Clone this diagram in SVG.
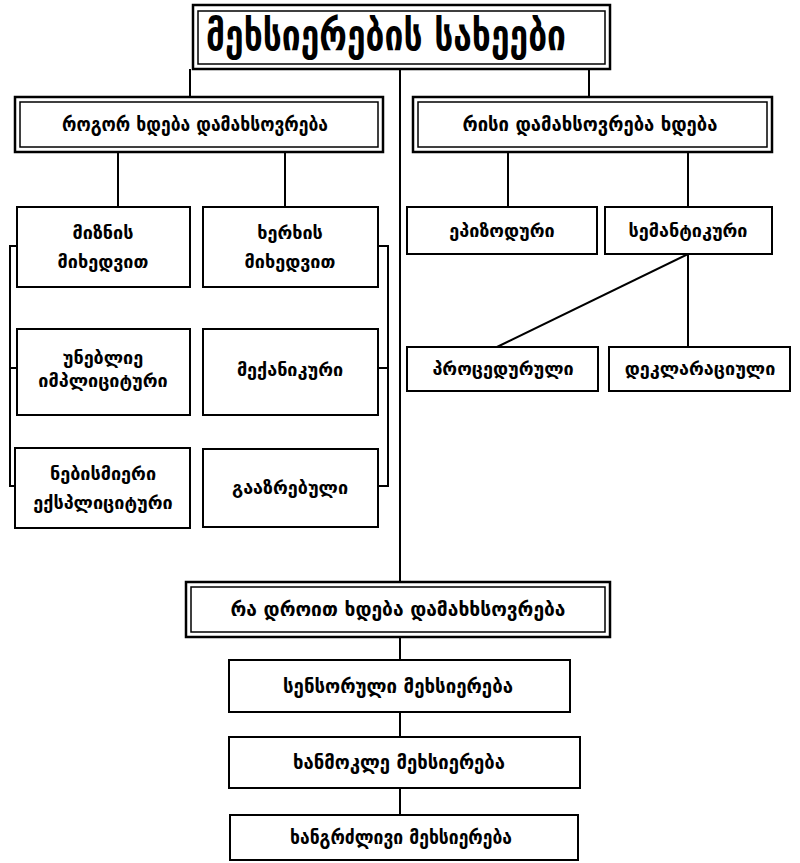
<svg xmlns="http://www.w3.org/2000/svg" width="800" height="863" viewBox="0 0 800 863">
<style>
  .bg { fill: #ffffff; }
  .box { fill: #ffffff; stroke: #000; stroke-width: 2; }
  .outer { fill: #ffffff; stroke: #000; stroke-width: 2.5; }
  .inner { fill: none; stroke: #000; stroke-width: 1.5; }
  .line { fill: none; stroke: #000; stroke-width: 2; }
  text { font-family: "DejaVu Sans", "Noto Sans", sans-serif; fill: #000; text-anchor: middle; font-weight: bold; }
  .title { font-size: 42px; }
  .head { font-size: 19px; }
  .lbl { font-size: 18px; }
  .lbl2 { font-size: 19px; }
</style>
<rect class="bg" x="0" y="0" width="800" height="863"/>
<g id="connectors">
  <line class="line" x1="400" y1="69" x2="400" y2="583"/>
  <line class="line" x1="190" y1="69" x2="190" y2="97"/>
  <line class="line" x1="589" y1="69" x2="589" y2="97"/>
  <line class="line" x1="118" y1="152" x2="118" y2="207"/>
  <line class="line" x1="285" y1="152" x2="285" y2="207"/>
  <line class="line" x1="508" y1="152" x2="508" y2="207"/>
  <line class="line" x1="688" y1="152" x2="688" y2="207"/>
  <line class="line" x1="688" y1="254" x2="497" y2="347"/>
  <line class="line" x1="688" y1="254" x2="688" y2="347"/>
  <polyline class="line" points="17,246 10,246 10,486 15,486"/>
  <line class="line" x1="10" y1="368" x2="17" y2="368"/>
  <polyline class="line" points="378,246 388,246 388,486 378,486"/>
  <line class="line" x1="378" y1="368" x2="388" y2="368"/>
  <line class="line" x1="400" y1="637" x2="400" y2="660"/>
  <line class="line" x1="400" y1="712" x2="400" y2="737"/>
  <line class="line" x1="400" y1="788" x2="400" y2="815"/>
</g>
<g id="title">
  <rect class="outer" x="193" y="5" width="417" height="64"/>
  <rect class="inner" x="198" y="11" width="407" height="53"/>
  <text class="title" x="386" y="50" textLength="360" lengthAdjust="spacingAndGlyphs">მეხსიერების სახეები</text>
</g>
<g id="how">
  <rect class="outer" x="15" y="97" width="368" height="55"/>
  <rect class="inner" x="20" y="102" width="358" height="45"/>
  <text class="head" x="195" y="131" textLength="266" lengthAdjust="spacingAndGlyphs">როგორ ხდება დამახსოვრება</text>
</g>
<g id="what">
  <rect class="outer" x="413" y="97" width="359" height="55"/>
  <rect class="inner" x="418" y="102" width="349" height="45"/>
  <text class="head" x="590" y="131" textLength="255" lengthAdjust="spacingAndGlyphs">რისი დამახსოვრება ხდება</text>
</g>
<g id="goal">
  <rect class="box" x="17" y="207" width="173" height="80"/>
  <text class="lbl" x="103" y="239">მიზნის</text>
  <text class="lbl" x="103" y="268">მიხედვით</text>
</g>
<g id="method">
  <rect class="box" x="203" y="207" width="175" height="80"/>
  <text class="lbl" x="290" y="239">ხერხის</text>
  <text class="lbl" x="290" y="268">მიხედვით</text>
</g>
<g id="episodic">
  <rect class="box" x="407" y="207" width="190" height="47"/>
  <text class="lbl" x="502" y="237">ეპიზოდური</text>
</g>
<g id="semantic">
  <rect class="box" x="605" y="207" width="167" height="47"/>
  <text class="lbl" x="688" y="237">სემანტიკური</text>
</g>
<g id="involuntary">
  <rect class="box" x="17" y="329" width="173" height="86"/>
  <text class="lbl" x="103" y="364">უნებლიე</text>
  <text class="lbl" x="103" y="387">იმპლიციტური</text>
</g>
<g id="mechanical">
  <rect class="box" x="203" y="329" width="175" height="86"/>
  <text class="lbl" x="290" y="376">მექანიკური</text>
</g>
<g id="procedural">
  <rect class="box" x="407" y="347" width="191" height="44"/>
  <text class="lbl" x="503" y="375">პროცედურული</text>
</g>
<g id="declarative">
  <rect class="box" x="609" y="347" width="181" height="44"/>
  <text class="lbl" x="700" y="375">დეკლარაციული</text>
</g>
<g id="voluntary">
  <rect class="box" x="15" y="448" width="175" height="80"/>
  <text class="lbl" x="103" y="480">ნებისმიერი</text>
  <text class="lbl" x="103" y="509">ექსპლიციტური</text>
</g>
<g id="meaningful">
  <rect class="box" x="203" y="449" width="175" height="78"/>
  <text class="lbl" x="290" y="494">გააზრებული</text>
</g>
<g id="when">
  <rect class="outer" x="186" y="582" width="424" height="55"/>
  <rect class="inner" x="191" y="587" width="414" height="45"/>
  <text class="head" x="398" y="616" textLength="335" lengthAdjust="spacingAndGlyphs">რა დროით ხდება დამახხსოვრება</text>
</g>
<g id="sensory">
  <rect class="box" x="229" y="660" width="341" height="52"/>
  <text class="lbl2" x="398" y="693" textLength="230" lengthAdjust="spacingAndGlyphs">სენსორული მეხსიერება</text>
</g>
<g id="short">
  <rect class="box" x="229" y="737" width="351" height="51"/>
  <text class="lbl2" x="399" y="769" textLength="212" lengthAdjust="spacingAndGlyphs">ხანმოკლე მეხსიერება</text>
</g>
<g id="long">
  <rect class="box" x="230" y="815" width="348" height="45"/>
  <text class="lbl2" x="401" y="844" textLength="222" lengthAdjust="spacingAndGlyphs">ხანგრძლივი მეხსიერება</text>
</g>
</svg>
